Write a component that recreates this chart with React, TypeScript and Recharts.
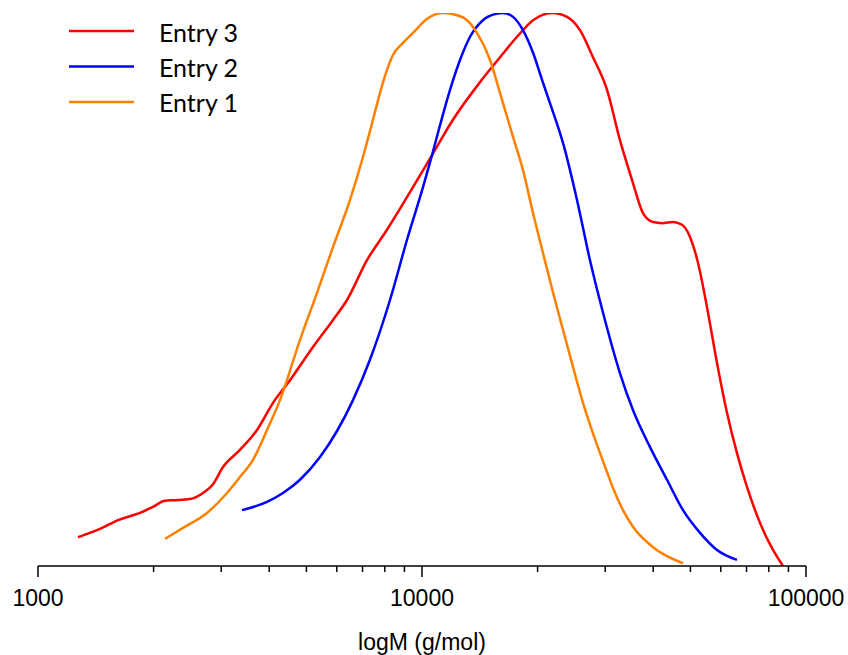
import React from "react";
import {
  LineChart,
  Line,
  XAxis,
  YAxis,
  Legend,
  Label,
} from "recharts";

// molecular weight (g/mol) and normalised detector response (peak = 100)
const entry3M = [
  1271, 1366, 1450, 1540, 1616, 1736, 1843, 1993, 2142, 2274, 2488, 2690, 2856,
  3032, 3357, 3719, 4093, 4532, 5201, 5866, 6378, 7190, 8107, 9475, 10620,
  12040, 14160, 15970, 17680, 19460, 21810, 23860, 25790, 27880, 30330, 32770,
  35240, 37630, 39960, 42170, 45040, 47540, 49880, 52340, 55240, 58650, 62270,
  66110, 70200, 75900, 82050, 87120,
];
const entry3W = [
  5.2, 6.0, 6.7, 7.6, 8.3, 9.0, 9.6, 10.7, 11.8, 11.9, 12.1, 13.2, 14.8, 17.9,
  21.0, 24.6, 29.5, 33.6, 39.6, 44.5, 48.1, 55.3, 60.8, 68.5, 74.3, 80.7, 87.5,
  92.0, 95.7, 98.7, 100, 99.3, 96.9, 92.0, 86.1, 77.0, 69.8, 63.8, 62.2, 62.0,
  62.2, 61.7, 59.5, 54.8, 46.8, 36.7, 27.7, 20.4, 14.3, 7.8, 2.9, 0,
];

const entry2M = [
  3398, 3948, 4345, 4812, 5425, 6611, 7319, 8254, 9141, 10060, 10620, 11140,
  11830, 12560, 13340, 14410, 15490, 16260, 17260, 18320, 19460, 20540, 21540,
  23290, 25330, 27380, 29610, 32770, 35430, 39250, 43450, 47830, 52970, 58650,
  66110,
];
const entry2W = [
  10.1, 11.6, 13.2, 15.6, 19.7, 30.0, 37.3, 48.1, 59.0, 68.5, 74.3, 79.7, 86.1,
  91.5, 95.7, 98.7, 99.8, 100, 99.3, 96.9, 92.8, 87.9, 83.7, 76.5, 66.2, 55.3,
  45.8, 34.9, 28.2, 21.5, 15.6, 10.1, 6.0, 2.9, 1.1,
];

const entry1M = [
  2142, 2386, 2755, 3106, 3357, 3630, 3948, 4267, 4812, 5328, 5866, 6494, 7022,
  7452, 7772, 8107, 8403, 8922, 9475, 10370, 11340, 12340, 13100, 13910, 15040,
  15970, 17260, 18320, 19460, 20660, 21940, 23290, 24730, 26260, 28560, 30330,
  31440, 33370, 35430, 39960, 47830,
];
const entry1W = [
  4.9, 6.9, 9.6, 13.2, 16.1, 19.2, 24.6, 30.0, 40.9, 49.4, 57.7, 66.2, 74.0,
  80.7, 85.5, 89.7, 92.4, 94.6, 96.4, 99.1, 100, 99.6, 98.7, 96.4, 91.5, 85.5,
  77.6, 71.6, 63.8, 56.6, 49.4, 42.7, 36.0, 29.5, 21.9, 17.0, 14.1, 10.1, 7.1,
  3.4, 0.5,
];

const majorTicks = [1000, 10000, 100000];
const allTicks = [
  1000, 2000, 3000, 4000, 5000, 6000, 7000, 8000, 9000, 10000, 20000, 30000,
  40000, 50000, 60000, 70000, 80000, 90000, 100000,
];

const toSeries = (m: number[], w: number[]) =>
  m.map((v, i) => ({ m: v, w: w[i] }));

const series = [
  { name: "Entry 3", color: "#ff0000", data: toSeries(entry3M, entry3W) },
  { name: "Entry 2", color: "#0000ff", data: toSeries(entry2M, entry2W) },
  { name: "Entry 1", color: "#ff8000", data: toSeries(entry1M, entry1W) },
];
const seriesOrder = series.map((s) => s.name);

const AXIS_FONT = "'Liberation Sans', Arial, sans-serif";

const LogTick = (props: any) => {
  const { x, y, payload } = props;
  const major = majorTicks.includes(payload.value);
  return (
    <g>
      <line
        x1={x}
        y1={y}
        x2={x}
        y2={y + (major ? 11 : 6)}
        stroke="#000"
        strokeWidth={1.5}
      />
      {major && (
        <text
          x={x}
          y={y + 40}
          textAnchor="middle"
          fill="#000"
          style={{ fontFamily: AXIS_FONT, fontSize: 23 }}
        >
          {payload.value}
        </text>
      )}
    </g>
  );
};

const renderLegend = (props: any) => {
  const items = [...(props.payload || [])].sort(
    (a: any, b: any) => seriesOrder.indexOf(a.value) - seriesOrder.indexOf(b.value)
  );
  return (
    <svg width={300} height={125}>
      {items.map((item: any, i: number) => (
        <g key={item.value}>
          <line
            x1={69}
            x2={134}
            y1={31 + i * 35.5}
            y2={31 + i * 35.5}
            stroke={item.color}
            strokeWidth={2.5}
          />
          <text
            x={159}
            y={42 + i * 35}
            fill="#000"
            style={{ fontFamily: "Lato, 'Open Sans', sans-serif", fontSize: 25 }}
          >
            {item.value}
          </text>
        </g>
      ))}
    </svg>
  );
};

const AxisTitle = (props: any) => {
  const { viewBox } = props;
  return (
    <text
      x={viewBox.x + viewBox.width / 2}
      y={viewBox.y + 84}
      textAnchor="middle"
      fill="#000"
      style={{ fontFamily: AXIS_FONT, fontSize: 23 }}
    >
      logM (g/mol)
    </text>
  );
};

export default function App() {
  return (
    <div
      style={{
        position: "absolute",
        left: 0,
        top: 0,
        width: 848,
        height: 655,
        background: "#fff",
      }}
    >
      <LineChart
        width={848}
        height={655}
        margin={{ top: 13, right: 42, left: 38, bottom: 0 }}
      >
        <XAxis
          type="number"
          dataKey="m"
          scale="log"
          domain={[1000, 100000]}
          ticks={allTicks}
          interval={0}
          allowDataOverflow
          height={89}
          tickSize={0}
          tickMargin={0}
          tick={<LogTick />}
          axisLine={{ stroke: "#000", strokeWidth: 1.5 }}
        >
          <Label content={<AxisTitle />} />
        </XAxis>
        <YAxis hide type="number" domain={[0, 100]} allowDataOverflow />
        <Legend
          layout="vertical"
          align="center"
          verticalAlign="middle"
          content={renderLegend}
          wrapperStyle={{ left: 0, top: 0, width: 300, height: 125 }}
        />
        {series.map((s) => (
          <Line
            key={s.name}
            name={s.name}
            data={s.data}
            dataKey="w"
            type="monotone"
            stroke={s.color}
            strokeWidth={2.5}
            dot={false}
            activeDot={false}
            isAnimationActive={false}
          />
        ))}
      </LineChart>
    </div>
  );
}
